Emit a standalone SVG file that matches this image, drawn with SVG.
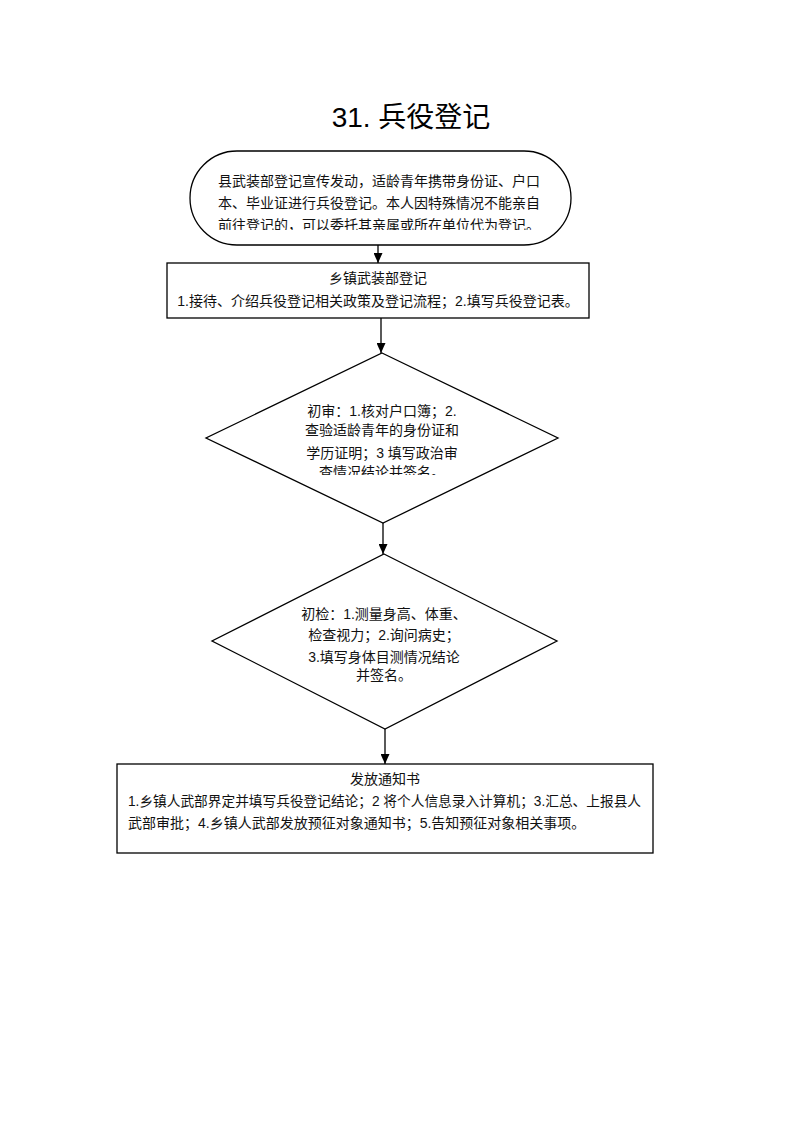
<svg xmlns="http://www.w3.org/2000/svg" width="793" height="1122" viewBox="0 0 793 1122">
<style>
.box{fill:#fff;stroke:#000;stroke-width:1.3}
.t{font-family:"Liberation Sans","Noto Sans CJK SC",sans-serif;font-size:14px;fill:#111}
.c{text-anchor:middle}
.ttl{font-family:"Liberation Sans","Noto Sans CJK SC",sans-serif;font-size:28px;fill:#000;text-anchor:middle}
</style>
<defs>
<marker id="ahd" markerUnits="userSpaceOnUse" markerWidth="9" markerHeight="10" refX="4.5" refY="10" viewBox="0 0 9 10" orient="0">
<path d="M0,0 L9,0 L4.5,10 Z" fill="#000"/>
</marker>
<clipPath id="clipS"><rect x="190" y="150" width="382" height="80"/></clipPath>
<clipPath id="clipD1"><rect x="200" y="340" width="370" height="135"/></clipPath>
</defs>
<rect width="793" height="1122" fill="#fff"/>
<text class="ttl" x="411" y="127">31. 兵役登记</text>

<g id="connectors">
<line x1="378" y1="245" x2="378" y2="263" stroke="#000" stroke-width="1.3" marker-end="url(#ahd)"/>
<line x1="381" y1="318" x2="381" y2="353" stroke="#000" stroke-width="1.3" marker-end="url(#ahd)"/>
<line x1="383" y1="523" x2="383" y2="554" stroke="#000" stroke-width="1.3" marker-end="url(#ahd)"/>
<line x1="385" y1="729" x2="385" y2="764" stroke="#000" stroke-width="1.3" marker-end="url(#ahd)"/>
</g>

<g id="start">
<rect class="box" x="190" y="151" width="381" height="94" rx="47" ry="47"/>
<g clip-path="url(#clipS)">
<text class="t" x="218" y="186">县武装部登记宣传发动，适龄青年携带身份证、户口</text>
<text class="t" x="218" y="208">本、毕业证进行兵役登记。本人因特殊情况不能亲自</text>
<text class="t" x="218" y="230">前往登记的，可以委托其亲属或所在单位代为登记。</text>
</g>
</g>

<g id="register">
<rect class="box" x="167" y="263" width="422" height="55"/>
<text class="t c" x="378" y="283">乡镇武装部登记</text>
<text class="t c" x="378" y="306">1.接待、介绍兵役登记相关政策及登记流程；2.填写兵役登记表。</text>
</g>

<g id="review">
<polygon class="box" points="382,353 558,438 383,523 206,438"/>
<g clip-path="url(#clipD1)">
<text class="t c" x="382" y="416">初审：1.核对户口簿；2.</text>
<text class="t c" x="382" y="435">查验适龄青年的身份证和</text>
<text class="t c" x="382" y="458">学历证明；3 填写政治审</text>
<text class="t c" x="382" y="477">查情况结论并签名。</text>
</g>
</g>

<g id="check">
<polygon class="box" points="384,554 557,641 385,729 212,641"/>
<text class="t c" x="384" y="619">初检：1.测量身高、体重、</text>
<text class="t c" x="384" y="640">检查视力；2.询问病史；</text>
<text class="t c" x="384" y="662">3.填写身体目测情况结论</text>
<text class="t c" x="384" y="680">并签名。</text>
</g>

<g id="notice">
<rect class="box" x="117" y="764" width="536" height="89"/>
<text class="t c" x="385" y="784">发放通知书</text>
<text class="t" x="128" y="806" textLength="513" lengthAdjust="spacingAndGlyphs">1.乡镇人武部界定并填写兵役登记结论；2 将个人信息录入计算机；3.汇总、上报县人</text>
<text class="t" x="128" y="828">武部审批；4.乡镇人武部发放预征对象通知书；5.告知预征对象相关事项。</text>
</g>
</svg>
